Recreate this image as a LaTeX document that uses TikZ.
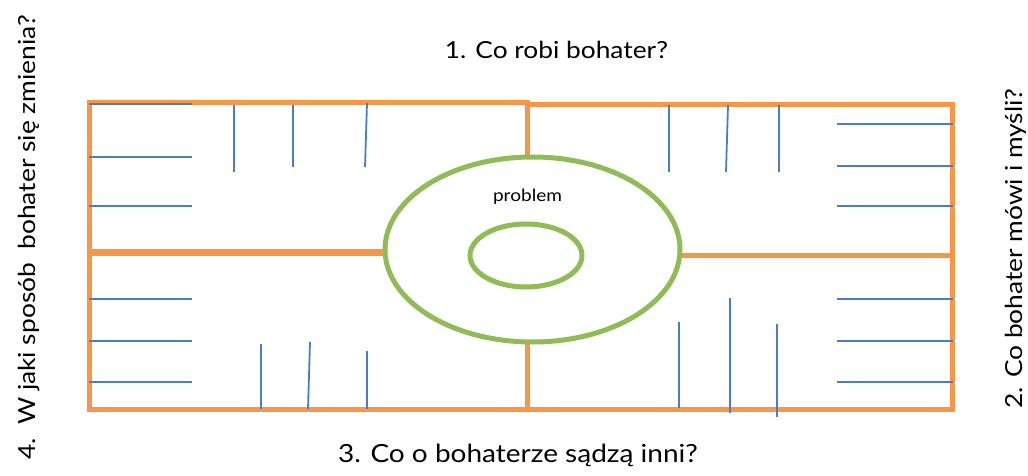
\documentclass[tikz,border=0pt]{standalone}
\usepackage{fontspec}
\setmainfont[FakeStretch=1.12]{Lato}
\definecolor{frameor}{HTML}{F79646}
\definecolor{ringgr}{HTML}{8FBC57}
\definecolor{lineblue}{HTML}{4A7EC4}
\begin{document}
\begin{tikzpicture}[x=1pt,y=-1pt,
  frame/.style={draw=frameor,line width=5pt},
  ring/.style={draw=ringgr,line width=5pt},
  rule/.style={draw=lineblue,line width=1.8pt},
  label/.style={inner sep=0pt,text=black},
  qfont/.style={font=\fontsize{23.5}{26}\selectfont}]
\useasboundingbox (0,0) rectangle (1028,476);
% frame
\draw[frame,line cap=rect] (89,103) -- (527,103);
\draw[frame,line cap=rect] (527,105) -- (952,105) -- (952,409) -- (89,409) -- (89,103);
\draw[frame] (527,103) -- (527,158);
\draw[frame] (527,342) -- (527,409);
\draw[frame,line width=7pt] (89,252) -- (386,252);
\draw[frame] (679,255) -- (952,255);
% rings
\draw[ring,fill=white] (532.5,249.5) ellipse [x radius=147.5, y radius=92.5];
\draw[ring] (526,255.5) ellipse [x radius=56, y radius=31.5];
\node[label,font=\fontsize{17}{19}\selectfont,anchor=base] (prob) at (527.5,201) {problem};
% top-left rules
\draw[rule] (89,104) -- (192,104);
\draw[rule] (89,157) -- (192,157);
\draw[rule] (89,206) -- (192,206);
\draw[rule] (234,105) -- (234,172);
\draw[rule] (293,105) -- (293,167);
\draw[rule] (367,103) -- (365,167);
% top-right rules
\draw[rule] (669,105) -- (669,172);
\draw[rule] (728,105) -- (726,172);
\draw[rule] (779,105) -- (779,172);
\draw[rule] (837,124) -- (953,124);
\draw[rule] (837,166) -- (953,166);
\draw[rule] (837,206) -- (953,206);
% bottom-left rules
\draw[rule] (89,299) -- (192,299);
\draw[rule] (89,341) -- (192,341);
\draw[rule] (89,382) -- (192,382);
\draw[rule] (261,344) -- (261,409);
\draw[rule] (310,342) -- (308,409);
\draw[rule] (367,351) -- (367,409);
% bottom-right rules
\draw[rule] (679,322) -- (679,408);
\draw[rule] (730,298) -- (730,413);
\draw[rule] (777,324) -- (777,417);
\draw[rule] (837,299) -- (953,299);
\draw[rule] (837,341) -- (953,341);
\draw[rule] (837,382) -- (953,382);
% labels
\node[label,qfont,anchor=base] (q1) at (556.5,59) {1. Co robi bohater?};
\node[label,font=\fontsize{25}{28}\selectfont,anchor=base] (q3) at (518,462) {3. Co o bohaterze sądzą inni?};
\node[label,qfont,anchor=base,rotate=90] (q2) at (1022,248.5) {2. Co bohater mówi i myśli?};
\node[label,qfont,anchor=base,rotate=90] (q4) at (35,237.5) {4.\ \ W jaki sposób\ \ bohater się zmienia?};
\end{tikzpicture}
\end{document}
